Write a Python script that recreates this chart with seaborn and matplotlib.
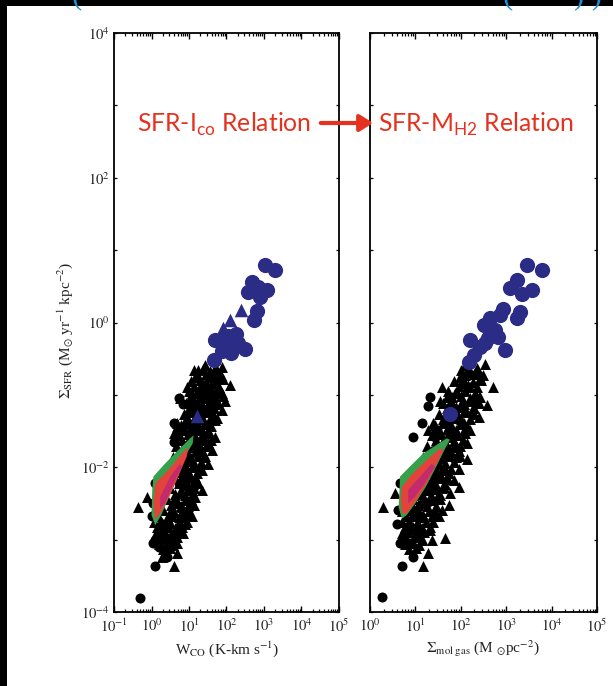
import numpy as np
import pandas as pd
import matplotlib
matplotlib.use("Agg")
import matplotlib.pyplot as plt
import seaborn as sns
from matplotlib.patches import Rectangle, FancyArrowPatch
from matplotlib.ticker import LogLocator, NullFormatter, NullLocator, FuncFormatter

# ------------------------------------------------------------------
# Data, stored as (log10 x, log10 Sigma_SFR) pairs
# ------------------------------------------------------------------

# Left panel: Sigma_SFR vs W_CO
wco_triangles = [
    (1.43, -0.59), (1.25, -0.66), (1.70, -0.63), (1.87, -0.61), (1.16, -0.75),
    (1.52, -0.75), (1.79, -0.75), (2.10, -0.86), (1.61, -0.84), (1.34, -0.84),
    (0.94, -0.89), (1.87, -0.98), (1.70, -0.98), (1.07, -0.98), (0.76, -1.05),
    (1.96, -1.09), (1.87, -1.21), (1.47, -1.16), (1.25, -1.12), (1.39, -1.03),
    (0.94, -1.30), (0.67, -1.39), (0.81, -1.49), (1.52, -1.39), (1.70, -1.35),
    (1.34, -1.49), (0.59, -1.53), (1.03, -1.58), (1.70, -1.58), (1.52, -1.67),
    (1.61, -1.76), (1.25, -1.76), (1.43, -1.85), (0.99, -1.90), (1.52, -1.95),
    (1.34, -2.04), (1.16, -2.13), (1.25, -2.22), (1.07, -2.31), (1.34, -2.31),
    (1.03, -2.50), (1.16, -2.41), (1.12, -2.52), (0.94, -2.64), (1.07, -2.68),
    (0.90, -2.78), (0.72, -2.87), (0.67, -2.96), (0.54, -3.05), (0.67, -3.05),
    (0.41, -3.10), (0.67, -3.19), (0.59, -3.37), (0.27, -3.24), (-0.35, -2.55),
    (-0.13, -2.41), (0.81, -2.68), (0.90, -1.76), (0.72, -1.85), (1.07, -2.00),
    (0.81, -2.13), (0.94, -2.22), (0.76, -2.36), (0.63, -2.50), (0.81, -2.55),
    (0.54, -2.68), (0.45, -2.82), (0.36, -2.96), (1.21, -1.67), (1.38, -1.58),
    (1.16, -1.30), (1.07, -1.16), (1.61, -1.12), (1.52, -0.98), (1.30, -0.93),
    (1.79, -0.89), (0.99, -1.07), (1.16, -1.49), (0.90, -1.39), (1.70, -1.12),
]
# the crowded middle of the cloud
wco_core_triangles = [
    (1.12, -0.66), (1.36, -0.64), (1.57, -0.67), (1.76, -0.66),
    (1.04, -0.81), (1.29, -0.79), (1.46, -0.82), (1.66, -0.80), (1.92, -0.78),
    (0.99, -0.95), (1.21, -0.96), (1.41, -0.94), (1.61, -0.97), (1.82, -0.95),
    (0.93, -1.11), (1.12, -1.09), (1.35, -1.12), (1.56, -1.08), (1.77, -1.11),
    (0.86, -1.26), (1.04, -1.24), (1.29, -1.26), (1.46, -1.23), (1.64, -1.27),
    (0.79, -1.41), (1.01, -1.39), (1.24, -1.42), (1.41, -1.40), (1.59, -1.43),
    (0.74, -1.56), (0.96, -1.54), (1.16, -1.57), (1.34, -1.55), (1.54, -1.53),
    (0.66, -1.71), (0.86, -1.69), (1.09, -1.72), (1.29, -1.70), (1.46, -1.71),
    (0.56, -1.86), (0.79, -1.84), (1.04, -1.87), (1.24, -1.85), (1.39, -1.86),
    (0.46, -2.01), (0.71, -1.99), (0.94, -2.02), (1.14, -2.00), (1.29, -2.03),
    (0.36, -2.16), (0.61, -2.14), (0.86, -2.17), (1.04, -2.15), (1.19, -2.16),
    (0.21, -2.31), (0.49, -2.29), (0.79, -2.32), (0.99, -2.30), (1.14, -2.29),
    (0.11, -2.46), (0.41, -2.44), (0.69, -2.47), (0.89, -2.45), (1.04, -2.44),
    (0.06, -2.61), (0.31, -2.59), (0.61, -2.62), (0.84, -2.60), (0.99, -2.61),
    (0.06, -2.76), (0.26, -2.74), (0.49, -2.77), (0.74, -2.75), (0.94, -2.76),
    (0.11, -2.91), (0.31, -2.89), (0.51, -2.92), (0.69, -2.90), (0.84, -2.91),
    (0.21, -3.06), (0.39, -3.04), (0.56, -3.07),
    (1.22, -0.72), (1.46, -0.71), (1.68, -0.73), (1.86, -0.72),
    (1.12, -0.88), (1.36, -0.87), (1.56, -0.89), (1.78, -0.88),
    (1.08, -1.03), (1.30, -1.02), (1.50, -1.04), (1.70, -1.03), (1.90, -1.02),
    (1.00, -1.18), (1.22, -1.17), (1.45, -1.19), (1.66, -1.18),
    (0.94, -1.33), (1.15, -1.32), (1.37, -1.34), (1.55, -1.33), (1.75, -1.32),
    (0.88, -1.48), (1.10, -1.47), (1.30, -1.49), (1.50, -1.48),
    (0.80, -1.63), (1.02, -1.62), (1.22, -1.64), (1.42, -1.63), (1.60, -1.62),
    (0.72, -1.78), (0.95, -1.77), (1.16, -1.79), (1.35, -1.78),
    (0.62, -1.93), (0.88, -1.92), (1.12, -1.94), (1.32, -1.93),
    (0.55, -2.08), (0.80, -2.07), (1.00, -2.09), (1.22, -2.08),
    (0.45, -2.23), (0.72, -2.22), (0.95, -2.24), (1.10, -2.23),
    (0.32, -2.38), (0.62, -2.37), (0.88, -2.39), (1.08, -2.38),
    (0.20, -2.53), (0.52, -2.52), (0.78, -2.54), (0.96, -2.53),
    (0.16, -2.68), (0.45, -2.67), (0.72, -2.69), (0.90, -2.68),
    (0.15, -2.83), (0.38, -2.82), (0.62, -2.84), (0.82, -2.83),
    (0.20, -2.98), (0.42, -2.97), (0.60, -2.99),
    (0.30, -3.13), (0.50, -3.12),
]
wco_circles = [
    (0.72, -1.05), (0.85, -1.12), (0.59, -1.39), (0.67, -1.51), (0.59, -1.65),
    (0.10, -2.22), (0.05, -2.50), (0.01, -2.68), (0.10, -3.01), (0.05, -3.05),
    (0.19, -3.10), (0.41, -3.24), (0.10, -3.37), (-0.30, -3.81), (0.27, -2.87),
    (0.36, -2.96), (0.45, -2.78), (0.54, -2.64), (0.27, -2.78), (0.63, -2.50),
    (0.72, -2.22), (0.81, -2.04), (0.90, -1.85), (1.03, -1.72), (1.07, -1.49),
    (1.16, -1.39), (1.25, -1.21), (1.34, -0.98), (0.19, -2.96), (0.45, -3.01),
]
wco_starburst_circles = [
    (3.03, 0.80), (3.29, 0.73), (2.68, 0.56), (2.84, 0.49), (3.08, 0.45),
    (2.57, 0.42), (2.89, 0.35), (2.81, 0.16), (2.73, 0.04), (1.69, -0.24),
    (2.04, -0.19), (2.25, -0.16), (2.31, -0.28), (2.49, -0.36), (1.88, -0.39),
    (2.12, -0.42), (1.67, -0.52), (1.99, -0.31),
]
wco_starburst_triangles = [(2.38, 0.17), (2.09, 0.03), (1.91, -0.07), (1.21, -1.29)]

# density contours of the resolved pixels (outer, middle, inner level)
wco_density_outer = [
    (0.05, -2.13), (0.36, -1.95), (0.72, -1.76), (1.03, -1.60), (1.12, -1.56),
    (1.10, -1.67), (0.88, -1.86), (0.70, -2.13), (0.48, -2.40), (0.26, -2.66),
    (0.10, -2.80), (0.00, -2.66), (0.02, -2.31),
]
wco_density_mid = [
    (0.10, -2.22), (0.45, -2.04), (0.81, -1.81), (0.99, -1.72), (0.94, -1.85),
    (0.67, -2.18), (0.45, -2.43), (0.23, -2.64), (0.10, -2.73), (0.05, -2.50),
]
wco_density_core = [
    (0.23, -2.41), (0.50, -2.13), (0.76, -1.95), (0.81, -1.99), (0.59, -2.22),
    (0.36, -2.50), (0.23, -2.57),
]

# Right panel: Sigma_SFR vs Sigma_mol gas
gas_triangles = [
    (2.09, -0.59), (2.53, -0.57), (2.35, -0.63), (2.20, -0.68), (1.98, -0.75),
    (2.42, -0.77), (2.72, -0.89), (1.58, -0.89), (2.20, -0.89), (1.87, -0.98),
    (2.42, -1.03), (2.57, -1.14), (1.54, -1.09), (2.06, -1.12), (2.24, -1.21),
    (1.87, -1.21), (2.39, -1.30), (2.06, -1.39), (1.39, -1.39), (1.65, -1.35),
    (1.28, -1.49), (2.20, -1.49), (1.87, -1.53), (2.13, -1.67), (1.91, -1.72),
    (1.76, -1.76), (2.13, -1.88), (1.95, -2.02), (1.65, -2.04), (1.84, -2.18),
    (1.95, -2.27), (1.62, -2.27), (1.76, -2.36), (1.73, -2.52), (1.47, -2.41),
    (1.58, -2.59), (1.39, -2.64), (1.51, -2.68), (1.10, -2.82), (1.32, -2.87),
    (1.36, -3.01), (1.14, -3.01), (1.65, -2.98), (1.28, -3.19), (1.17, -3.37),
    (0.29, -2.55), (0.55, -2.36), (0.95, -2.55), (1.17, -2.31), (1.47, -1.85),
    (1.69, -1.58), (1.84, -1.30), (1.51, -1.95), (1.32, -2.18), (1.10, -2.50),
    (0.92, -2.68), (0.88, -2.82), (1.98, -1.85), (2.28, -1.07), (1.69, -1.03),
    (1.76, -1.49), (1.98, -1.16), (2.09, -0.84), (1.80, -1.12), (1.58, -1.67),
    (1.36, -1.81), (1.25, -1.99), (1.69, -2.13), (1.17, -2.68), (1.03, -2.78),
]
gas_core_triangles = [
    (2.01, -0.66), (2.19, -0.64), (2.38, -0.67),
    (1.86, -0.81), (2.04, -0.79), (2.26, -0.82), (2.44, -0.80),
    (1.71, -0.95), (1.91, -0.96), (2.09, -0.94), (2.31, -0.97),
    (1.61, -1.11), (1.79, -1.09), (2.01, -1.12), (2.19, -1.08), (2.39, -1.11),
    (1.51, -1.26), (1.69, -1.24), (1.91, -1.26), (2.09, -1.23), (2.29, -1.27),
    (1.44, -1.41), (1.61, -1.39), (1.79, -1.42), (1.99, -1.40), (2.14, -1.43),
    (1.36, -1.56), (1.54, -1.54), (1.76, -1.57), (1.94, -1.55), (2.09, -1.53),
    (1.26, -1.71), (1.44, -1.69), (1.66, -1.72), (1.84, -1.70), (1.99, -1.71),
    (1.16, -1.86), (1.34, -1.84), (1.56, -1.87), (1.74, -1.85), (1.89, -1.86),
    (1.06, -2.01), (1.24, -1.99), (1.46, -2.02), (1.64, -2.00), (1.79, -2.03),
    (0.96, -2.16), (1.14, -2.14), (1.36, -2.17), (1.54, -2.15), (1.69, -2.16),
    (0.86, -2.31), (1.04, -2.29), (1.26, -2.32), (1.44, -2.30), (1.59, -2.29),
    (0.76, -2.46), (0.94, -2.44), (1.16, -2.47), (1.34, -2.45), (1.54, -2.44),
    (0.71, -2.61), (0.89, -2.59), (1.09, -2.62), (1.29, -2.60), (1.44, -2.61),
    (0.71, -2.76), (0.86, -2.74), (1.04, -2.77), (1.24, -2.75), (1.39, -2.76),
    (0.71, -2.91), (0.84, -2.89), (1.01, -2.92), (1.19, -2.90),
    (0.76, -3.06), (0.94, -3.04), (1.09, -3.07),
    (2.10, -0.72), (2.30, -0.71), (2.48, -0.73),
    (1.95, -0.88), (2.15, -0.87), (2.35, -0.89),
    (1.80, -1.03), (2.00, -1.02), (2.20, -1.04), (2.40, -1.03),
    (1.70, -1.18), (1.90, -1.17), (2.10, -1.19), (2.30, -1.18),
    (1.60, -1.33), (1.80, -1.32), (2.00, -1.34), (2.20, -1.33),
    (1.52, -1.48), (1.70, -1.47), (1.90, -1.49), (2.08, -1.48),
    (1.45, -1.63), (1.62, -1.62), (1.84, -1.64), (2.04, -1.63),
    (1.35, -1.78), (1.55, -1.77), (1.75, -1.79), (1.95, -1.78),
    (1.25, -1.93), (1.45, -1.92), (1.65, -1.94), (1.85, -1.93),
    (1.15, -2.08), (1.35, -2.07), (1.55, -2.09), (1.75, -2.08),
    (1.05, -2.23), (1.25, -2.22), (1.45, -2.24), (1.65, -2.23),
    (0.95, -2.38), (1.15, -2.37), (1.35, -2.39), (1.55, -2.38),
    (0.85, -2.53), (1.05, -2.52), (1.25, -2.54), (1.45, -2.53),
    (0.80, -2.68), (1.00, -2.67), (1.20, -2.69), (1.38, -2.68),
    (0.78, -2.83), (0.95, -2.82), (1.15, -2.84), (1.32, -2.83),
    (0.80, -2.98), (0.98, -2.97), (1.15, -2.99),
    (0.85, -3.13), (1.02, -3.12),
]
gas_circles = [
    (1.32, -1.03), (1.14, -1.39), (0.95, -1.58), (1.28, -1.16), (0.66, -2.22),
    (0.62, -2.59), (0.59, -2.78), (0.66, -3.05), (0.73, -3.01), (0.95, -3.24),
    (0.70, -3.37), (0.26, -3.79), (0.88, -3.05), (0.81, -2.91), (1.03, -2.96),
    (0.95, -2.87), (1.10, -2.68), (1.25, -2.50), (1.36, -2.31), (1.47, -2.13),
    (1.58, -1.85), (1.65, -1.72), (1.43, -1.58), (1.47, -1.49),
]
gas_starburst_circles = [
    (3.45, 0.79), (3.78, 0.72), (3.23, 0.59), (3.08, 0.47), (3.56, 0.45),
    (3.34, 0.40), (3.30, 0.15), (3.23, 0.06), (2.94, 0.19), (2.86, 0.10),
    (2.64, 0.06), (2.50, -0.04), (2.75, -0.10), (2.83, -0.20), (2.61, -0.22),
    (2.20, -0.24), (2.42, -0.34), (2.97, -0.38), (2.28, -0.45), (2.17, -0.54),
    (2.53, -0.29), (1.76, -1.26),
]
gas_starburst_triangles = []

gas_density_outer = [
    (0.66, -2.13), (0.88, -1.99), (1.17, -1.81), (1.47, -1.69), (1.69, -1.60),
    (1.76, -1.62), (1.64, -1.76), (1.46, -1.99), (1.24, -2.26), (1.02, -2.48),
    (0.81, -2.66), (0.70, -2.71), (0.63, -2.55), (0.65, -2.31),
]
gas_density_mid = [
    (0.70, -2.27), (0.95, -2.08), (1.25, -1.90), (1.54, -1.74), (1.62, -1.76),
    (1.47, -1.95), (1.25, -2.22), (1.03, -2.45), (0.81, -2.64), (0.70, -2.64),
    (0.68, -2.45),
]
gas_density_core = [
    (0.84, -2.31), (1.10, -2.13), (1.36, -1.95), (1.43, -1.99), (1.21, -2.22),
    (0.99, -2.41), (0.84, -2.50),
]

x_limits_wco = (1e-1, 1e5)
x_limits_gas = (1e0, 1e5)
y_limits = (1e-4, 1e4)

x_label_wco = r"W$_{\rm CO}$ (K-km s$^{-1}$)"
x_label_gas = r"$\Sigma_{\rm mol\ gas}$ (M $_{\odot}$pc$^{-2}$)"
y_label = r"$\Sigma_{\rm SFR}$ (M$_{\odot}$ yr$^{-1}$ kpc$^{-2}$)"
relation_left = r"SFR-I$_{\rm co}$ Relation"
relation_right = r"SFR-M$_{\rm H2}$ Relation"

# ------------------------------------------------------------------
# Style
# ------------------------------------------------------------------
sns.set_style("ticks")
plt.rcParams["font.family"] = ["Liberation Serif", "DejaVu Serif"]
plt.rcParams["mathtext.fontset"] = "stix"
plt.rcParams["mathtext.rm"] = "Lato"

NAVY = "#2b2c86"
RED = "#e5321f"
GREEN = "#36a04c"
PINK_RED = "#e2443c"
MAGENTA = "#c42b6c"
INK = "#222222"

W, H = 613, 686
fig = plt.figure(figsize=(W / 100, H / 100), dpi=100, facecolor="black")
fig.patches.append(Rectangle((7 / W, 0), 1 - 7 / W, 1 - 6 / H,
                             transform=fig.transFigure, facecolor="white",
                             edgecolor="none", zorder=-10))

ax_left = fig.add_axes([114 / W, 1 - 612 / H, 225 / W, 579 / H])
ax_right = fig.add_axes([370 / W, 1 - 612 / H, 227 / W, 579 / H])


def to_frame(pairs):
    df = pd.DataFrame(pairs, columns=["lx", "ly"])
    df["x"] = 10.0 ** df["lx"]
    df["y"] = 10.0 ** df["ly"]
    return df


def decade_label(v, pos):
    return r"$10^{%d}$" % int(round(np.log10(v)))


def even_decade_label(v, pos):
    k = int(round(np.log10(v)))
    return r"$10^{%d}$" % k if k % 2 == 0 else ""


def draw_panel(ax, tri, core_tri, circ, sb_circ, sb_tri, outer, mid, core, xlim):
    ax.set_xscale("log")
    ax.set_yscale("log")
    ax.set_facecolor("white")

    t = to_frame(tri + core_tri)
    c = to_frame(circ)
    sns.scatterplot(data=t, x="x", y="y", ax=ax, marker="^", s=62,
                    color="black", linewidth=0, zorder=2)
    sns.scatterplot(data=c, x="x", y="y", ax=ax, marker="o", s=52,
                    color="black", linewidth=0, zorder=2)

    for poly, col in ((outer, GREEN), (mid, PINK_RED), (core, MAGENTA)):
        p = to_frame(poly)
        ax.fill(p["x"], p["y"], color=col, lw=0, zorder=3)

    sc = to_frame(sb_circ)
    sns.scatterplot(data=sc, x="x", y="y", ax=ax, marker="o", s=120,
                    color=NAVY, linewidth=0, zorder=4)
    if sb_tri:
        st = to_frame(sb_tri)
        sns.scatterplot(data=st, x="x", y="y", ax=ax, marker="^", s=95,
                        color=NAVY, linewidth=0, zorder=4)

    ax.set_xlim(*xlim)
    ax.set_ylim(*y_limits)
    ax.set_xlabel("")
    ax.set_ylabel("")
    ax.xaxis.label.set_visible(False)
    ax.yaxis.label.set_visible(False)

    ax.xaxis.set_major_locator(LogLocator(base=10, numticks=20))
    ax.xaxis.set_minor_locator(LogLocator(base=10, subs=np.arange(2, 10), numticks=100))
    ax.xaxis.set_major_formatter(FuncFormatter(decade_label))
    ax.xaxis.set_minor_formatter(NullFormatter())
    ax.set_yticks([10.0 ** k for k in range(-4, 5)])
    ax.yaxis.set_minor_locator(NullLocator())
    ax.yaxis.set_minor_formatter(NullFormatter())

    for side in ax.spines.values():
        side.set_linewidth(1.3)
        side.set_color("black")
    ax.tick_params(axis="both", which="both", direction="in", top=True,
                   right=True, colors="black", labelcolor=INK, labelsize=10.5)
    ax.tick_params(axis="x", which="major", length=4.5, width=1.0, pad=4)
    ax.tick_params(axis="x", which="minor", length=2.5, width=0.9)
    ax.tick_params(axis="y", which="major", length=2.5, width=0.9, pad=3)


draw_panel(ax_left, wco_triangles, wco_core_triangles, wco_circles,
           wco_starburst_circles, wco_starburst_triangles, wco_density_outer,
           wco_density_mid, wco_density_core, x_limits_wco)
draw_panel(ax_right, gas_triangles, gas_core_triangles, gas_circles,
           gas_starburst_circles, gas_starburst_triangles, gas_density_outer,
           gas_density_mid, gas_density_core, x_limits_gas)

ax_left.yaxis.set_major_formatter(FuncFormatter(even_decade_label))
ax_right.yaxis.set_major_formatter(NullFormatter())

# axis titles
fig.text(65 / W, 1 - 330 / H, y_label, rotation=90, ha="center", va="center",
         fontsize=11, color=INK)
fig.text(227 / W, 1 - 649 / H, x_label_wco, ha="center", va="center",
         fontsize=11, color=INK)
fig.text(483 / W, 1 - 649 / H, x_label_gas, ha="center", va="center",
         fontsize=11, color=INK)

# relation annotations with arrow
fig.text(137 / W, 1 - 124 / H, relation_left, ha="left", va="center",
         fontsize=17.8, color=RED, family="Lato", math_fontfamily="custom")
fig.text(378 / W, 1 - 124 / H, relation_right, ha="left", va="center",
         fontsize=17.8, color=RED, family="Lato", math_fontfamily="custom")
fig.patches.append(FancyArrowPatch((318 / W, 1 - 123 / H), (376 / W, 1 - 123 / H),
                                   transform=fig.transFigure,
                                   arrowstyle="-|>,head_length=8,head_width=5",
                                   mutation_scale=1, color=RED, lw=3, zorder=10))

# slide heading above the figure, mostly cut off
fig.text(72 / W, 1 + 4 / H, "(", color="#1f8fd2", fontsize=22, ha="left", va="center")
fig.text(503 / W, 1 + 4 / H, "(        ) )", color="#1f8fd2", fontsize=22,
         ha="left", va="center")

fig.savefig("out.png", dpi=100, facecolor=fig.get_facecolor())
